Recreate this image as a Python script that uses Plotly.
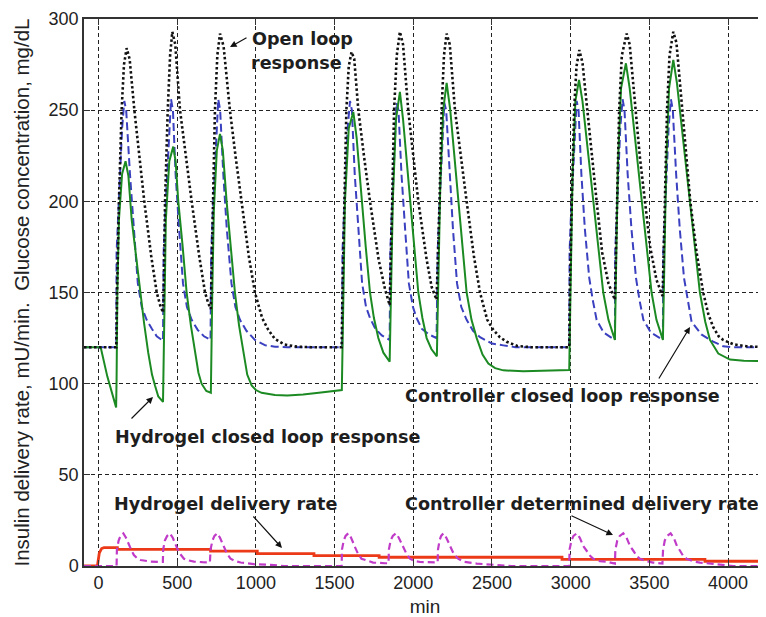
import plotly.graph_objects as go

# ---------------- data ----------------
# Open loop response (black dotted)
t_open = [-92, 113, 118, 130, 147, 162, 179, 198, 228, 260, 291, 335, 370, 392, 410,
          414, 423, 440, 455, 469, 488, 518, 555, 592, 640, 677, 698, 714,
          717, 727, 740, 755, 772, 795, 835, 872, 910, 955, 994, 1040, 1079, 1121, 1180, 1260, 1350,
          1545,
          1550, 1562, 1575, 1590, 1608, 1625, 1651, 1688, 1725, 1780, 1820, 1850,
          1854, 1866, 1878, 1895, 1915, 1935, 1968, 2000, 2032, 2085, 2117, 2148,
          2153, 2167, 2180, 2195, 2212, 2232, 2265, 2302, 2339, 2385, 2424, 2470, 2509, 2550, 2593, 2660, 2750,
          2991,
          2995, 3007, 3022, 3037, 3055, 3075, 3110, 3135, 3165, 3200, 3240, 3281,
          3285, 3296, 3308, 3325, 3356, 3375, 3410, 3440, 3472, 3505, 3545, 3584,
          3589, 3600, 3612, 3628, 3652, 3672, 3705, 3730, 3760, 3800, 3842, 3875, 3906, 3940, 3969, 4033, 4118, 4241]
g_open = [120, 120, 150, 200, 250, 275, 284, 278, 250, 224, 200, 170, 150, 143, 139,
          150, 200, 250, 280, 293, 286, 250, 224, 200, 170, 150, 144, 141,
          155, 200, 250, 280, 292, 285, 250, 224, 200, 170, 150, 136, 129.5, 124.5, 121.5, 120.3, 120,
          120,
          150, 200, 250, 274, 282, 278, 250, 224, 200, 168, 152, 143,
          155, 200, 250, 280, 293, 286, 250, 224, 200, 168, 153, 146,
          160, 200, 250, 280, 292, 286, 250, 224, 200, 170, 150, 135, 129.5, 125.5, 123, 120.7, 120,
          120,
          150, 200, 250, 274, 283, 276, 245, 224, 200, 172, 155, 146,
          160, 200, 250, 280, 292, 286, 250, 224, 200, 175, 157, 148,
          165, 200, 250, 280, 293, 287, 255, 228, 200, 172, 150, 138, 131, 126, 124, 121.6, 120.5, 120]

# Controller closed loop response (blue dashed)
t_ctrl = [-92, 113, 115, 126, 137, 150, 164, 176, 200, 225, 250, 275, 306, 340, 370, 410,
          414, 425, 436, 448, 461, 473, 490, 512, 537, 562, 592, 630, 670, 712,
          716, 727, 738, 750, 761, 773, 793, 815, 845, 870, 899, 940, 994, 1060, 1121, 1200,
          1548,
          1550, 1560, 1570, 1583, 1598, 1610, 1628, 1650, 1675, 1700, 1725, 1760, 1800, 1850,
          1854, 1864, 1875, 1885, 1894, 1906, 1925, 1948, 1972, 1998, 2021, 2055, 2100, 2148,
          2155, 2165, 2175, 2187, 2197, 2209, 2230, 2252, 2278, 2305, 2339, 2380, 2424, 2500, 2572, 2650,
          2991,
          2993, 3003, 3013, 3025, 3038, 3050, 3068, 3090, 3118, 3140, 3165, 3210, 3281,
          3283, 3293, 3303, 3315, 3330, 3342, 3362, 3386, 3415, 3437, 3462, 3510, 3586,
          3588, 3600, 3610, 3622, 3637, 3649, 3670, 3693, 3720, 3745, 3768, 3830, 3906, 3969, 4033, 4241]
g_ctrl = [120, 120, 172, 195, 215, 240, 255, 250, 215, 185, 155, 142, 135, 130, 126, 123.5,
          172, 195, 215, 240, 256, 250, 215, 185, 155, 142, 135, 129.5, 126, 124,
          172, 195, 215, 240, 256, 250, 215, 185, 155, 142, 135, 129, 124, 121, 120.3, 120,
          120,
          172, 195, 215, 240, 255, 250, 215, 185, 155, 142, 136, 130, 126.5, 124,
          172, 195, 215, 240, 254, 250, 215, 185, 155, 142, 136, 130, 127, 125,
          172, 195, 215, 240, 254, 250, 215, 185, 155, 142, 135, 129, 125.5, 122, 121, 120,
          120,
          172, 195, 212, 240, 255, 250, 215, 185, 158, 146, 135, 128, 124,
          172, 195, 212, 240, 256, 250, 215, 185, 158, 146, 135, 128, 124,
          172, 195, 212, 240, 256, 250, 215, 185, 158, 145, 134, 127, 123, 120.5, 120, 120]

# Hydrogel closed loop response (green solid)
t_gel = [-92, 14, 56, 112, 115, 120, 130, 150, 172, 190, 211, 238, 264, 290, 316, 340, 359, 380, 410,
         412, 418, 428, 450, 475, 490, 507, 535, 560, 587, 613, 635, 655, 685, 714,
         716, 723, 733, 752, 772, 790, 814, 840, 867, 893, 920, 945, 973, 1000, 1036, 1121, 1200, 1300, 1400, 1546,
         1549, 1556, 1566, 1590, 1619, 1640, 1672, 1698, 1725, 1750, 1778, 1810, 1850,
         1853, 1860, 1870, 1890, 1915, 1935, 1979, 2005, 2032, 2058, 2085, 2115, 2150,
         2153, 2162, 2172, 2190, 2212, 2235, 2286, 2312, 2339, 2370, 2403, 2440, 2477, 2520, 2572, 2700, 2850, 2991,
         2994, 3002, 3012, 3030, 3053, 3075, 3100, 3144, 3175, 3207, 3240, 3281,
         3284, 3290, 3300, 3320, 3351, 3375, 3410, 3451, 3483, 3514, 3545, 3586,
         3590, 3597, 3607, 3625, 3652, 3675, 3710, 3758, 3790, 3821, 3855, 3885, 3938, 4012, 4100, 4241]
g_gel = [120, 120, 104, 87, 102, 150, 190, 215, 222, 214, 190, 170, 150, 133, 117, 105, 99, 93, 90,
         105, 150, 190, 222, 230, 222, 200, 175, 150, 132, 117, 106, 100, 96, 95,
         110, 150, 195, 228, 237, 228, 200, 175, 150, 132, 117, 105, 99, 96.5, 95, 93.8, 93.5, 94, 95, 96.5,
         112, 155, 200, 240, 249, 235, 200, 175, 150, 136, 125, 117, 112,
         125, 160, 200, 245, 260, 245, 200, 175, 150, 136, 125, 119, 115,
         130, 170, 210, 250, 265, 250, 200, 175, 150, 135, 125, 116, 111, 108.5, 107.3, 106.8, 107, 107.5,
         125, 170, 215, 255, 266.6, 255, 235, 200, 175, 150, 135, 124,
         140, 180, 220, 262, 275.7, 262, 235, 200, 175, 150, 135, 124,
         140, 180, 220, 262, 277.6, 265, 238, 200, 175, 150, 134, 124, 116.5, 113.2, 112.6, 112.4]

# Controller determined delivery rate (magenta dashed)
t_cdel = [-92, 115, 117, 128, 140, 158, 175, 193, 210, 225, 245, 267, 300, 331, 398,
          409, 411, 422, 436, 454, 472, 490, 501, 520, 543, 575, 607, 660, 708,
          712, 724, 737, 754, 772, 797, 818, 839, 870, 903, 988, 1094, 1179,
          1545, 1547, 1558, 1570, 1587, 1605, 1629, 1650, 1671, 1710, 1745, 1820,
          1843, 1845, 1856, 1870, 1890, 1908, 1937, 1958, 1979, 2010, 2043, 2155,
          2157, 2167, 2177, 2191, 2210, 2232, 2255, 2285, 2318, 2403, 2500, 2625,
          2991, 2993, 3005, 3018, 3038, 3058, 3080, 3101, 3125, 3144, 3185, 3229, 3281,
          3284, 3296, 3312, 3334, 3355, 3377, 3397, 3420, 3440, 3480, 3524, 3583,
          3587, 3598, 3614, 3635, 3655, 3675, 3694, 3715, 3736, 3780, 3821, 3948, 4033, 4241]
u_cdel = [0, 0, 9, 14, 16.5, 17.9, 15.5, 11.5, 8.5, 6, 4.3, 3.3, 2.7, 2.4, 2.2,
          2.2, 9, 14, 16.5, 17.9, 15.5, 11.5, 9.5, 6.5, 4, 3, 2.4, 2.1, 2,
          9, 14, 16.5, 17.9, 15.5, 10, 6.5, 4, 2.7, 1.9, 1, 0.6, 0,
          0, 9, 14, 16.5, 17.9, 15.5, 10.5, 6.5, 4, 2.7, 1.9, 1.5,
          1.5, 9, 14, 16.5, 17.9, 15.5, 10, 6.5, 4, 2.7, 2.2, 2.0,
          9, 14, 16.5, 17.9, 15.5, 11, 7, 4, 2.4, 1.3, 0.6, 0,
          0, 9, 14, 16.5, 17.9, 15.5, 11, 8.5, 5.5, 4, 2.7, 2.4, 1.3,
          9, 14, 16.5, 17.9, 15.5, 11, 8.5, 5.5, 4, 2.7, 1.9, 1.3,
          9, 14, 16.5, 17.9, 15.5, 11, 8.5, 5.5, 4, 2.5, 1.9, 0.6, 0, 0]

# Hydrogel delivery rate (red solid, stepped)
t_hdel = [-92, -7, 5, 20, 35, 120, 120, 712, 712, 1009, 1009, 1369, 1369, 1783, 1783,
          2945, 2945, 3853, 3853, 4241]
u_hdel = [0, 0, 7, 9.6, 10.1, 10.1, 9.1, 9.1, 8.2, 8.2, 6.8, 6.8, 5.7, 5.7, 4.8,
          4.8, 3.6, 3.6, 2.6, 2.6]

x_ticks = [0, 500, 1000, 1500, 2000, 2500, 3000, 3500, 4000]
y_ticks = [0, 50, 100, 150, 200, 250, 300]

# ---------------- figure ----------------
# The page body has an 8px margin, so the figure is placed at (8, 8) in the window.
OFF = 8
WIN_W, WIN_H = 766, 617
PLOT_L, PLOT_R, PLOT_T, PLOT_B = 84, 766, 19, 566      # plot area in window pixels
W, H = WIN_W - OFF, WIN_H - OFF
L, R, T = PLOT_L - OFF, 0, PLOT_T - OFF
B = H + OFF - PLOT_B
PW, PH = PLOT_R - PLOT_L, PLOT_B - PLOT_T


def px(xp):
    return (xp - PLOT_L) / PW


def py(yp):
    return (PLOT_B - yp) / PH


fig = go.Figure()
fig.add_trace(go.Scatter(x=t_hdel, y=u_hdel, mode="lines",
                         line=dict(color="#ec3a18", width=2.8)))
fig.add_trace(go.Scatter(x=t_cdel, y=u_cdel, mode="lines",
                         line=dict(color="#c03cc8", width=2.2, dash="7px,4px")))
fig.add_trace(go.Scatter(x=t_ctrl, y=g_ctrl, mode="lines",
                         line=dict(color="#3a40bf", width=2, dash="8px,4px")))
fig.add_trace(go.Scatter(x=t_gel, y=g_gel, mode="lines",
                         line=dict(color="#1c8a22", width=2)))
fig.add_trace(go.Scatter(x=t_open, y=g_open, mode="lines",
                         line=dict(color="#111111", width=2.6, dash="2.5px,2.5px")))

FONT = "Liberation Sans, Arial, sans-serif"
txt = dict(family="DejaVu Sans, Liberation Sans, sans-serif", size=17.6, color="#1e1e1e")

labels = [
    ("<b>Open loop</b>", 250, 39),
    ("<b>response</b>", 249, 63),
    ("<b>Controller closed loop response</b>", 403, 396),
    ("<b>Hydrogel closed loop response</b>", 113, 437),
    ("<b>Hydrogel delivery rate</b>", 112, 504),
    ("<b>Controller determined delivery rate</b>", 403, 504),
]
for s, xx, yy in labels:
    fig.add_annotation(text=s, x=px(xx), y=py(yy), xref="paper", yref="paper",
                       xanchor="left", yanchor="middle", showarrow=False, font=txt)

arrows = [
    (230, 47, 18, -10),
    (690, 327, -32, 53),
    (153, 397, -23, 23),
    (282, 548, -30, -33),
    (613, 535, -43, -20),
]
for hx, hy, ax, ay in arrows:
    fig.add_annotation(text="", x=px(hx), y=py(hy), xref="paper", yref="paper",
                       ax=ax, ay=ay, showarrow=True, arrowhead=2, arrowsize=1.1,
                       arrowwidth=1.2, arrowcolor="#111111")

axis_common = dict(
    showgrid=True, gridcolor="#222222", gridwidth=1, griddash="4px,3px",
    showline=True, linecolor="#333333", linewidth=1.5, mirror="allticks",
    ticks="inside", ticklen=6, tickcolor="#333333", tickwidth=1,
    zeroline=False, tickfont=dict(family=FONT, size=18, color="#222222"),
)

fig.update_layout(
    width=W, height=H, margin=dict(l=L, r=R, t=T, b=B, autoexpand=False),
    paper_bgcolor="white", plot_bgcolor="white", showlegend=False,
    xaxis=dict(range=[-92, 4241], tickvals=x_ticks,
               title=dict(text="min", font=dict(family=FONT, size=19, color="#222222"), standoff=13),
               **axis_common),
    yaxis=dict(range=[0, 300], tickvals=y_ticks,
               title=dict(text="Insulin delivery rate, mU/min.  Glucose concentration, mg/dL",
                          font=dict(family=FONT, size=20.5, color="#222222"), standoff=13),
               **axis_common),
)

fig.write_html("out.html")
